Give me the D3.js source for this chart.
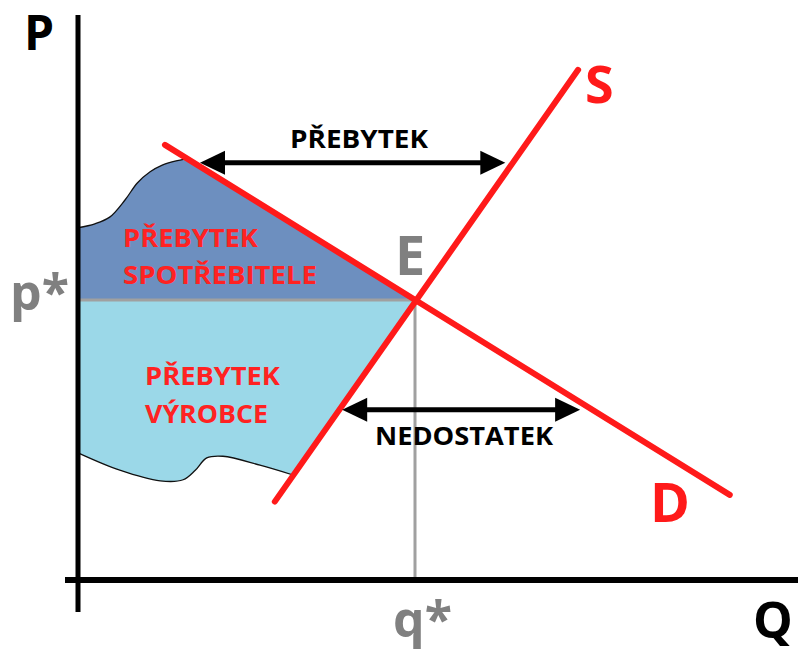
<!DOCTYPE html>
<html>
<head>
<meta charset="utf-8">
<script src="https://cdn.jsdelivr.net/npm/d3@7"></script>
<style>
  body { margin: 0; background: #fff; }
  svg { display: block; font-family: "Open Sans", sans-serif; font-weight: bold; }
</style>
</head>
<body>
<div id="chart"></div>
<script>
// equilibrium and the two curves (in chart units, origin at the axes)
var equilibrium = [5, 5];
var supplyLine = [[2.92, 1.40], [7.42, 9.11]];
var demandLine = [[1.29, 7.77], [9.67, 1.52]];

// hand drawn edges of the surplus areas
var consumerEdge = [[0, 6.29], [0.25, 6.36], [0.47, 6.48], [0.70, 6.79], [0.88, 7.09],
                    [1.07, 7.29], [1.25, 7.41], [1.44, 7.48], [1.62, 7.52]];
var producerEdge = [[0, 2.27], [0.62, 1.96], [1.22, 1.77], [1.56, 1.79], [1.74, 1.96],
                    [1.91, 2.18], [2.15, 2.21], [2.70, 2.05], [3.19, 1.875]];

// double arrows: [from, to] at a price level
var surplusArrow  = [[1.81, 7.45], [6.34, 7.45]];
var shortageArrow = [[3.92, 3.04], [7.45, 3.04]];

var arrowLabels = ["PŘEBYTEK", "NEDOSTATEK"];
var consumerLabel = ["PŘEBYTEK", "SPOTŘEBITELE"];
var producerLabel = ["PŘEBYTEK", "VÝROBCE"];
var axisNames = ["P", "Q"];
var eqNames = ["p*", "q*", "E"];
var curveNames = ["S", "D"];

var W = 798, H = 652;
var x = d3.scaleLinear().domain([0, 5]).range([78, 415]);
var y = d3.scaleLinear().domain([0, 5]).range([580, 300]);

var svg = d3.select("#chart").append("svg").attr("width", W).attr("height", H);
var line = d3.line().x(d => x(d[0])).y(d => y(d[1]));
var curvy = d3.line().x(d => x(d[0])).y(d => y(d[1])).curve(d3.curveCatmullRom);

// consumer surplus (dark blue)
var csPath = curvy(consumerEdge) + "L" + x(equilibrium[0]) + "," + y(equilibrium[1]) +
             "L" + x(0) + "," + y(equilibrium[1]) + "Z";
svg.append("path").attr("d", csPath).attr("fill", "#6d8fbf");

// producer surplus (light blue)
var psPath = curvy(producerEdge.slice().reverse()) + "L" + x(0) + "," + y(equilibrium[1]) +
             "L" + x(equilibrium[0]) + "," + y(equilibrium[1]) + "Z";
svg.append("path").attr("d", psPath).attr("fill", "#9bd8e8");

// thin black outlines of the wavy edges
svg.append("path").attr("d", curvy(consumerEdge)).attr("fill", "none")
   .attr("stroke", "#111").attr("stroke-width", 1.3);
svg.append("path").attr("d", curvy(producerEdge)).attr("fill", "none")
   .attr("stroke", "#111").attr("stroke-width", 1.3);

// guide lines to p* and q*
svg.append("path").attr("d", line([[0, equilibrium[1]], equilibrium]))
   .attr("stroke", "#a0a0a0").attr("stroke-width", 3).attr("fill", "none");
svg.append("path").attr("d", line([equilibrium, [equilibrium[0], 0]]))
   .attr("stroke", "#a0a0a0").attr("stroke-width", 3).attr("fill", "none");

// axes
svg.append("line").attr("x1", x(0)).attr("x2", x(0)).attr("y1", 15).attr("y2", 612)
   .attr("stroke", "#000").attr("stroke-width", 5);
svg.append("line").attr("x1", 65).attr("x2", W).attr("y1", y(0)).attr("y2", y(0))
   .attr("stroke", "#000").attr("stroke-width", 6);

// supply and demand
[supplyLine, demandLine].forEach(function (l) {
    svg.append("path").attr("d", line(l)).attr("stroke", "#ff1a1a")
       .attr("stroke-width", 6).attr("stroke-linecap", "round").attr("fill", "none");
});

// double arrows
function doubleArrow(a) {
    var x1 = x(a[0][0]), x2 = x(a[1][0]), yy = y(a[0][1]);
    var len = 25, hw = 12;
    svg.append("line").attr("x1", x1 + len - 2).attr("x2", x2 - len + 2)
       .attr("y1", yy).attr("y2", yy).attr("stroke", "#000").attr("stroke-width", 5);
    svg.append("path").attr("fill", "#000")
       .attr("d", "M" + x1 + "," + yy + "L" + (x1 + len) + "," + (yy - hw) + "L" + (x1 + len) + "," + (yy + hw) + "Z");
    svg.append("path").attr("fill", "#000")
       .attr("d", "M" + x2 + "," + yy + "L" + (x2 - len) + "," + (yy - hw) + "L" + (x2 - len) + "," + (yy + hw) + "Z");
}
doubleArrow(surplusArrow);
doubleArrow(shortageArrow);

function label(t, px, py, size, fill, width) {
    var el = svg.append("text").attr("x", px).attr("y", py).attr("font-size", size)
        .attr("fill", fill).text(t);
    if (width) el.attr("textLength", width).attr("lengthAdjust", "spacingAndGlyphs");
    return el;
}

label(arrowLabels[0], 290, 148, 25, "#000", 138);
label(arrowLabels[1], 375, 445, 25, "#000", 178);

label(consumerLabel[0], 123, 247, 25, "#ff2222", 135);
label(consumerLabel[1], 123, 284, 25, "#ff2222", 194);
label(producerLabel[0], 145, 385, 25, "#ff2222", 135);
label(producerLabel[1], 145, 423, 25, "#ff2222", 123);

label(axisNames[0], 24, 50, 48, "#000");
label(axisNames[1], 753, 638, 50, "#000");
label(eqNames[0], 10, 310, 50, "#808080");
label(eqNames[1], 393, 637, 50, "#808080");
label(eqNames[2], 395, 275, 54, "#808080");
label(curveNames[0], 585, 103, 52, "#ff1a1a");
label(curveNames[1], 650, 522, 54, "#ff1a1a");
</script>
</body>
</html>
